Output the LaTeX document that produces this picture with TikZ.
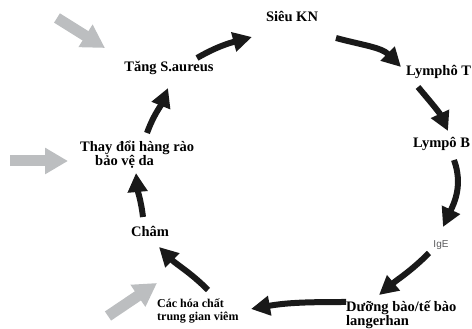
\documentclass[tikz,border=0pt]{standalone}
\usepackage{fontspec}
\setmainfont{Liberation Serif}
\newfontfamily\igefont{Liberation Sans}
\usetikzlibrary{arrows.meta}
\definecolor{ingray}{RGB}{188,190,192}
\definecolor{igegray}{RGB}{90,90,92}
\begin{document}
\begin{tikzpicture}[x=1pt,y=1pt,
  lbl/.style={inner sep=0pt,font=\fontsize{14.5}{14}\selectfont\bfseries,align=left},
  arr/.style={line width=6pt,color=black!90,-{Triangle[length=19pt,width=19pt]}},
  inarr/.style={line width=11pt,color=ingray,-{Triangle[length=23pt,width=25pt]}}]
\useasboundingbox (0,0) rectangle (472,329);
\node[lbl,anchor=base] (sieu)at(292,307){Siêu KN};
\node[lbl,anchor=base west] (lymT)at(406,253){Lymphô T};
\node[lbl,anchor=base west] (lymB)at(413,181){Lympô B};
\node[inner sep=0pt,anchor=base,font=\igefont\fontsize{10}{12}\selectfont,text=igegray] (ige)at(441,81){IgE};
\node[lbl,anchor=base west,font=\fontsize{14.5}{13}\selectfont\bfseries] (duong)at(346,3){Dưỡng bào/tế bào\\langerhan};
\node[lbl,anchor=base west,font=\fontsize{12}{13}\selectfont\bfseries] (cac)at(157,8){Các hóa chất\\trung gian viêm};
\node[lbl,anchor=base] (cham)at(150,92){Châm};
\node[lbl,anchor=base west] (thay)at(80,163){Thay đổi hàng rào\\\hspace*{15pt}bảo vệ da};
\node[lbl,anchor=base] (tang)at(169,257){Tăng S.aureus};
\draw[arr] ([shift={(28,14)}]tang.base) to[out=30,in=195] ([shift={(-40,-15)}]sieu.base);
\draw[arr] ([shift={(44,-16)}]sieu.base) to[out=-15,in=135] ([shift={(-5,9)}]lymT.base west);
\draw[arr] ([shift={(12,-11)}]lymT.base west) to[out=-50,in=115] ([shift={(35,17)}]lymB.base west);
\draw[arr] ([shift={(41,-12)}]lymB.base west) to[out=-70,in=65] ([shift={(2,21)}]ige.base);
\draw[arr] ([shift={(-12,-5)}]ige.base) to[out=-135,in=40] ([shift={(33,31)}]duong.base west);
\draw[arr] ([shift={(0,24)}]duong.base west) to[out=180,in=10] ([shift={(94,12)}]cac.base west);
\draw[arr] ([shift={(51,31)}]cac.base west) to[out=135,in=-45] ([shift={(9,-10)}]cham.base);
\draw[arr] ([shift={(-7,20)}]cham.base) to[out=97,in=-85] ([shift={(56,-7)}]thay.base west);
\draw[arr] ([shift={(67,33)}]thay.base west) to[out=70,in=-112] ([shift={(-1,-16)}]tang.base);
\coordinate (g1a) at (57,311);
\coordinate (g1b) at (105,281);
\coordinate (g2a) at (10,168);
\coordinate (g2b) at (68,168);
\coordinate (g3a) at (108,13);
\coordinate (g3b) at (157,46);
\draw[inarr] (g1a) -- (g1b);
\draw[inarr] (g2a) -- (g2b);
\draw[inarr] (g3a) -- (g3b);
\end{tikzpicture}
\end{document}
